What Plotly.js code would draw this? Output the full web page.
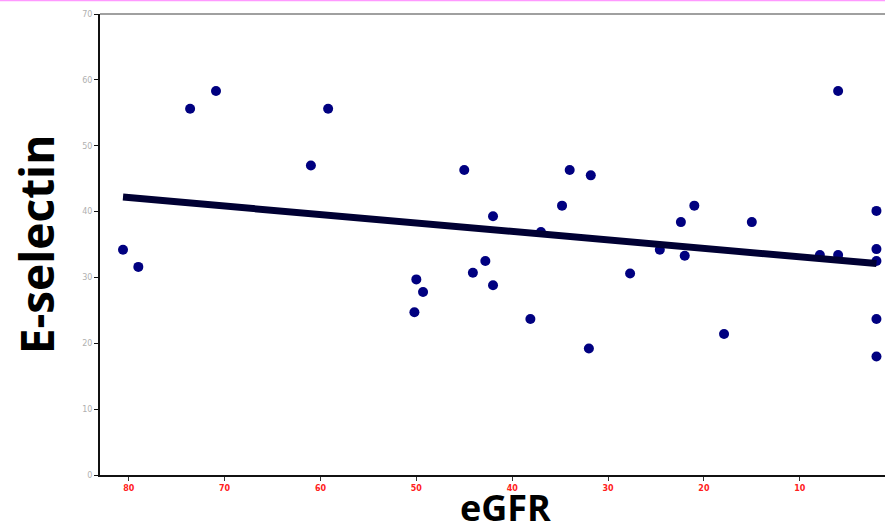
<!DOCTYPE html>
<html>
<head>
<meta charset="utf-8">
<script src="https://cdn.plot.ly/plotly-3.0.1.min.js"></script>
<style>
html,body{margin:0;padding:0;overflow:hidden;background:#fff;width:885px;height:525px;}
#chart{width:910px;height:525px;}
</style>
</head>
<body>
<div id="chart"></div>
<script>
// eGFR values (x) and E-selectin values (y)
const eGFR = [80.6, 79.0, 73.6, 70.9, 61.0, 59.2, 45.0, 34.0, 31.8, 34.8, 42.0, 37.0, 42.8, 50.0, 44.1, 49.3, 42.0, 50.2, 38.1, 32.0, 21.0, 22.4, 15.0, 24.6, 22.0, 27.7, 17.9, 6.0, 2.0, 7.9, 6.0, 2.0, 2.0, 2.0, 2.0];
const eSelectin = [34.2, 31.6, 55.6, 58.3, 47.0, 55.6, 46.3, 46.3, 45.5, 40.9, 39.3, 36.9, 32.5, 29.7, 30.7, 27.8, 28.8, 24.7, 23.7, 19.2, 40.9, 38.4, 38.4, 34.2, 33.3, 30.6, 21.4, 58.3, 40.1, 33.4, 33.4, 34.3, 32.5, 23.7, 18.0];
// trend line end points
const trendX = [80.6, 2.0];
const trendY = [42.2, 32.1];
const xTicks = [80, 70, 60, 50, 40, 30, 20, 10];
const yTicks = [0, 10, 20, 30, 40, 50, 60, 70];
const xTitle = 'eGFR';
const yTitle = 'E-selectin';

const data = [
  {x: eGFR, y: eSelectin, type: 'scatter', mode: 'markers',
   marker: {color: '#000080', size: 10}, hoverinfo: 'x+y', showlegend: false},
  {x: trendX, y: trendY, type: 'scatter', mode: 'lines',
   line: {color: '#000033', width: 7}, showlegend: false}
];

const layout = {
  width: 910, height: 525,
  margin: {l: 100, r: 0, t: 14, b: 50},
  paper_bgcolor: '#fff', plot_bgcolor: '#fff',
  showlegend: false,
  xaxis: {
    range: [83.0, -1.5], autorange: false,
    tickvals: xTicks, ticktext: xTicks.map(String),
    ticks: 'outside', ticklen: 4, tickwidth: 1, tickcolor: '#333',
    tickfont: {family: 'DejaVu Sans', size: 8, color: '#ff2020', weight: 'bold'},
    showgrid: false, zeroline: false,
    showline: true, linecolor: '#111', linewidth: 2
  },
  yaxis: {
    range: [0, 70], autorange: false,
    tickvals: yTicks, ticktext: yTicks.map(String),
    ticks: 'outside', ticklen: 4, tickwidth: 1, tickcolor: '#111',
    tickfont: {family: 'DejaVu Sans', size: 8, color: '#b0b0b0'},
    showgrid: false, zeroline: false,
    showline: true, linecolor: '#111', linewidth: 2,
    title: {text: '<b>' + yTitle + '</b>', font: {family: 'Open Sans', size: 46, color: '#000'}, standoff: 13}
  },
  annotations: [
    {text: '<b>' + xTitle + '</b>', xref: 'paper', yref: 'paper', x: 0.5, y: -0.012,
     xanchor: 'center', yanchor: 'top', showarrow: false,
     font: {family: 'Open Sans', size: 36, color: '#000'}}
  ],
  shapes: [
    {type: 'line', xref: 'paper', yref: 'paper', x0: 0, x1: 1, y0: 1, y1: 1,
     line: {color: '#a0a0a0', width: 2}},
    {type: 'line', xref: 'paper', yref: 'paper', x0: -0.2, x1: 1.1, y0: 1.0297, y1: 1.0297,
     line: {color: '#ff99ff', width: 2}}
  ]
};

Plotly.newPlot('chart', data, layout, {displayModeBar: false, staticPlot: true});
</script>
</body>
</html>
